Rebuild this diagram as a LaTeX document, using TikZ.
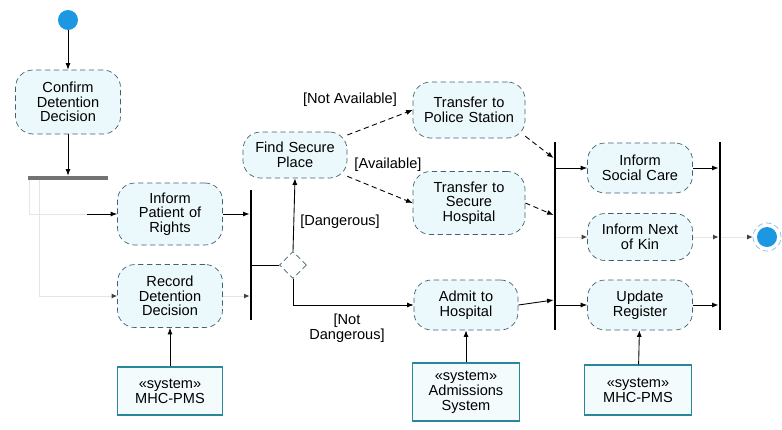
\documentclass[tikz,border=0pt]{standalone}
\usepackage{fontspec}
\setmainfont{Liberation Sans}
\usetikzlibrary{shapes.geometric,arrows.meta}
\definecolor{dotblue}{RGB}{28,152,226}
\definecolor{actfill}{RGB}{236,249,252}
\definecolor{actline}{RGB}{62,100,112}
\definecolor{sysline}{RGB}{40,135,155}
\tikzstyle{activity} = [rectangle, rounded corners=3.5mm, draw=actline, densely dashed, fill=actfill, text width=20mm, align=center, minimum width=21mm, minimum height=10mm, inner sep=1pt, font=\fontsize{8.3}{8.4}\selectfont]
\tikzstyle{system} = [rectangle, draw=sysline, line width=0.7pt, fill=actfill!60, text width=20mm, align=center, minimum width=21mm, minimum height=9.6mm, inner sep=1pt, font=\fontsize{8.3}{8.6}\selectfont]
\tikzstyle{bar} = [rectangle, fill=black, inner sep=0pt, minimum width=0.45mm]
\tikzstyle{guard} = [inner sep=1pt, align=center, font=\fontsize{8.3}{8.6}\selectfont]
\tikzstyle{line} = [draw, line width=0.5pt, -{Latex[length=1.3mm,width=1mm]}]
\tikzstyle{faint} = [draw=black!10, line width=0.5pt, -{Latex[black!75,length=1.1mm,width=1mm]}]

\begin{document}
\begin{tikzpicture}[x=0.2mm, y=-0.2mm]
    \useasboundingbox (0,0) rectangle (782,429);
    % Place nodes
    \node [circle, fill=dotblue, minimum size=4mm, inner sep=0pt] (start) at (68,20) {};
    \node [activity, minimum height=12.8mm] (confirm) at (68,102) {Confirm\\Detention\\Decision};
    \node [bar, fill=black!55, minimum width=16mm, minimum height=0.8mm] (fork) at (68,178) {};
    \node [activity, minimum height=12.4mm] (inform) at (170,214) {Inform\\Patient of\\Rights};
    \node [activity, minimum height=12.6mm] (record) at (170,296) {Record\\Detention\\Decision};
    \node [system] (sysleft) at (170,391) {«system»\\MHC-PMS};
    \node [bar, minimum height=26mm] (join1) at (251,255) {};
    \node [diamond, draw=actline, densely dashed, fill=white, minimum size=5.4mm, inner sep=0pt] (decide) at (293,265) {};
    \node [activity, minimum width=20.8mm, minimum height=9.2mm] (find) at (295,155) {Find Secure\\Place};
    \node [activity, minimum width=22.4mm, minimum height=11.2mm] (police) at (469,110) {Transfer to\\Police Station};
    \node [activity, minimum width=22.4mm, minimum height=12.6mm] (securehosp) at (469,203) {Transfer to\\Secure\\Hospital};
    \node [activity, minimum width=20.8mm] (admit) at (466,305) {Admit to\\Hospital};
    \node [system, minimum width=21.4mm, minimum height=11.6mm] (sysmid) at (466,392) {«system»\\Admissions\\System};
    \node [bar, minimum height=37.6mm] (join2) at (555,236) {};
    \node [activity] (social) at (640,168) {Inform\\Social Care};
    \node [activity, minimum height=9.4mm] (kin) at (640,237) {Inform Next\\of Kin};
    \node [activity] (update) at (640,305) {Update\\Register};
    \node [system, minimum width=21.4mm, minimum height=10mm] (sysright) at (638,390) {«system»\\MHC-PMS};
    \node [bar, minimum height=37.6mm] (join3) at (720,236) {};
    \node [circle, draw=dotblue!60, densely dashed, fill=white, minimum size=5.6mm, inner sep=0pt,
           path picture={\fill[dotblue] (path picture bounding box.center) circle (2mm);}] (final) at (767,237) {};
    % Guards
    \node [guard] (gnotavail) at (350,100) {[Not Available]};
    \node [guard] (gavail) at (388,165) {[Available]};
    \node [guard] (gdanger) at (340,222) {[Dangerous]};
    \node [guard] (gnotdanger) at (347,328) {[Not\\Dangerous]};
    \coordinate (tap) at ([xshift=-6mm]inform.west);
    % Draw edges
    \path [line] (start) -- (confirm);
    \path [line] (confirm) -- (fork);
    \path [faint, -] ([xshift=0.4mm]fork.south west) |- (tap);
    \path [line] (tap) -- (inform.west);
    \path [faint] ([xshift=2.4mm]fork.south west) |- (record.west);
    \path [line] (inform.east) -- (inform.east -| join1.west);
    \path [faint] (record.east) -- (record.east -| join1.west);
    \draw [line width=0.5pt] (join1.east |- decide.west) -- (decide.west);
    \path [line] (decide.north) -- (find.south);
    \path [line] (decide.south) |- (admit.west);
    \path [line, densely dashed] (find) -- (police.west);
    \path [line, densely dashed] (find) -- (securehosp.west);
    \path [line, densely dashed] (police.-25) -- (join2.west |- 0,158);
    \path [line, densely dashed] (securehosp.east) -- (join2.west |- 0,215);
    \path [line] (admit.east) -- (join2.west |- 0,300);
    \path [line] (join2.east |- social.west) -- (social.west);
    \path [faint] (join2.east |- kin.west) -- (kin.west);
    \path [line] (join2.east |- update.west) -- (update.west);
    \path [line] (social.east) -- (social.east -| join3.west);
    \path [faint] (kin.east) -- (kin.east -| join3.west);
    \path [line] (update.east) -- (update.east -| join3.west);
    \path [faint] (join3.east |- final.west) -- (final.west);
    \path [line] (sysleft) -- (record);
    \path [line] (sysmid) -- (admit);
    \path [line] (sysright) -- (update);
\end{tikzpicture}
\end{document}
